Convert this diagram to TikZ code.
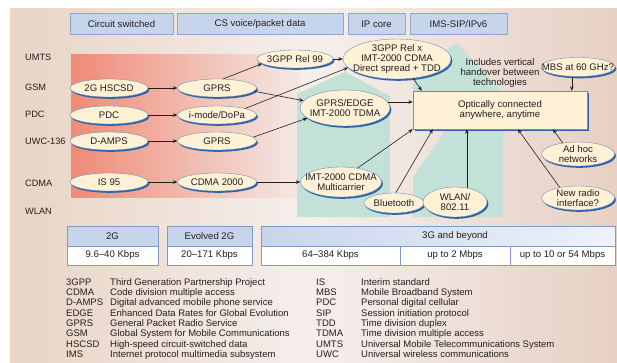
\documentclass[tikz,border=0pt]{standalone}
\usepackage{fontspec}
\setmainfont{Liberation Sans}
\usetikzlibrary{shapes.geometric,arrows.meta,shadows,calc}
\definecolor{bgL}{HTML}{E9D4C5}
\definecolor{bgM}{HTML}{F5EFEC}
\definecolor{bgR}{HTML}{E7D0C4}
\definecolor{redL}{HTML}{EF8A76}
\definecolor{redR}{HTML}{F4E9E5}
\definecolor{greenA}{HTML}{C3E1D6}
\definecolor{cream}{HTML}{FEF1D6}
\definecolor{ellline}{HTML}{6F8FB5}
\definecolor{shblue}{HTML}{2E63A8}
\definecolor{hdrfill}{HTML}{C7D5EC}
\definecolor{hdrline}{HTML}{8CA5CE}
\definecolor{tabline}{HTML}{7F9BC8}
\definecolor{hdrlight}{HTML}{EEF2FA}
\definecolor{txt}{HTML}{231F20}
\begin{document}
\begin{tikzpicture}[x=1pt,y=-1pt,
  every node/.style={font=\fontsize{9.6}{10}\selectfont, text=txt},
  ell/.style={ellipse, draw=ellline, line width=0.4pt, fill=cream, inner xsep=-10pt, inner ysep=-8pt, align=center,
    drop shadow={shadow xshift=1.4pt,shadow yshift=-1.8pt,fill=shblue,opacity=1}},
  hdr/.style={rectangle, draw=hdrline, line width=0.6pt, fill=hdrfill, inner sep=0pt, minimum height=21pt},
  cell/.style={rectangle, draw=tabline, line width=0.6pt, inner sep=0pt},
  arr/.style={-{Stealth[length=4.5pt,width=3.6pt]}, line width=0.6pt, draw=txt},
  lbl/.style={anchor=west, inner sep=0pt, font=\fontsize{9.2}{10}\selectfont},
  gl/.style={anchor=base west, inner sep=0pt, font=\fontsize{9.5}{10}\selectfont},
]
\useasboundingbox (0,0) rectangle (617,362);
\fill[white] (0,0) rectangle (617,362);
\shade[left color=bgL, right color=bgR, middle color=bgM] (10,8) rectangle (617,362);
\shade[left color=redL, right color=redR] (71,54) rectangle (300,197);
\fill[greenA] (297,217) -- (297,94) -- (345,72) -- (390,96) -- (390,217) -- cycle;
\fill[greenA] (413,217) -- (413,177) -- (445,131) -- (445,95) -- (413,95) -- (413,74) -- (457,43) -- (503,93) -- (503,217) -- cycle;

% top header
\node[hdr, minimum width=103pt] (hcs) at (121.5,23.8) {Circuit switched};
\node[hdr, minimum width=166pt] (hcsv) at (260,23.8) {CS voice/packet data};
\node[hdr, minimum width=57pt] (hip) at (376.5,23.8) {IP core};
\node[hdr, minimum width=97pt] (hims) at (458.5,23.8) {IMS-SIP/IPv6};

% row labels
\node[lbl] (lumts) at (25,57) {UMTS};
\node[lbl] (lgsm) at (25,87) {GSM};
\node[lbl] (lpdc) at (25,114) {PDC};
\node[lbl] (luwc) at (25,141) {UWC-136};
\node[lbl] (lcdma) at (25,183) {CDMA};
\node[lbl] (lwlan) at (25,211) {WLAN};

% ellipses
\node[ell, minimum width=78pt, minimum height=18pt] (hscsd) at (109,88) {2G HSCSD};
\node[ell, minimum width=78pt, minimum height=18pt] (pdc) at (109,115) {PDC};
\node[ell, minimum width=78pt, minimum height=18pt] (damps) at (109,141) {D-AMPS};
\node[ell, minimum width=78pt, minimum height=18pt] (is95) at (109,182) {IS 95};
\node[ell, minimum width=79pt, minimum height=18pt] (gprsa) at (217,88) {GPRS};
\node[ell, minimum width=79pt, minimum height=18pt] (imode) at (217,115) {i-mode/DoPa};
\node[ell, minimum width=79pt, minimum height=18pt] (gprsb) at (217,141) {GPRS};
\node[ell, minimum width=79pt, minimum height=18pt] (cdma2k) at (217,182) {CDMA 2000};
\node[ell, minimum width=76pt, minimum height=18pt] (rel99) at (295,59) {3GPP Rel 99};
\node[ell, minimum width=108pt, minimum height=40pt] (relx) at (397,59) {3GPP Rel x\\IMT-2000 CDMA\\Direct spread + TDD};
\node[ell, minimum width=90pt, minimum height=36pt] (edge) at (345,108) {GPRS/EDGE\\IMT-2000 TDMA};
\node[ell, minimum width=81pt, minimum height=30pt] (mc) at (341,182) {IMT-2000 CDMA\\Multicarrier};
\node[ell, minimum width=60pt, minimum height=20pt] (bt) at (394,203) {Bluetooth};
\node[ell, minimum width=64pt, minimum height=30pt] (wlan) at (455,202) {WLAN/\\802.11};
\node[ell, minimum width=74pt, minimum height=19pt] (mbs) at (578,67) {MBS at 60 GHz?};
\node[ell, minimum width=73pt, minimum height=24pt] (adhoc) at (578,154) {Ad hoc\\networks};
\node[ell, minimum width=73pt, minimum height=24pt] (nradio) at (578,198) {New radio\\interface?};

% central box
\node[rectangle, draw=ellline, line width=0.4pt, fill=cream, minimum width=174pt, minimum height=38pt, align=center, inner sep=0pt,
  drop shadow={shadow xshift=2pt,shadow yshift=-2pt,fill=shblue,opacity=1}] (box) at (500,110) {Optically connected\\anywhere, anytime};
\node[align=center, inner sep=0pt] (incl) at (500,73) {Includes vertical\\handover between\\technologies};

% arrows
\draw[arr] (hscsd.east) -- (gprsa.west);
\draw[arr] (pdc.east) -- (imode.west);
\draw[arr] (damps.east) -- (gprsb.west);
\draw[arr] (is95.east) -- (cdma2k.west);
\draw[arr] (gprsa.56) -- (rel99.188);
\draw[arr] (gprsa.-5) -- (edge.170);
\draw[arr] (imode.13) -- (relx.190);
\draw[arr] (gprsb.6) -- (edge.195);
\draw[arr] (cdma2k.east) -- (mc.west);
\draw[arr] (rel99.east) -- (relx.west);
\draw[arr] (relx.-50) -- ($(box.north west)+(9,0)$);
\draw[arr] (edge.8) -- (edge.8 -| box.west);
\draw[arr] (mc.40) -- ($(box.south west)+(0,0)$);
\draw[arr] (bt.80) -- ($(box.south west)+(20,0)$);
\draw[arr] (wlan.50) -- (wlan.50 |- box.south);
\draw[arr] (nradio.150) -- ($(box.south west)+(105,0)$);
\draw[arr] (adhoc.144) -- ($(box.south west)+(140,0)$);
\draw[arr] (mbs.-123) -- (mbs.-123 |- box.north);

% table
\node[cell, fill=hdrfill, minimum width=91pt, minimum height=20pt] (t2g) at (112.5,236) {2G};
\node[cell, fill=white, minimum width=91pt, minimum height=19pt] (t2gr) at (112.5,255.5) {9.6--40 Kbps};
\node[cell, fill=hdrfill, minimum width=85pt, minimum height=20pt] (tev) at (209.5,236) {Evolved 2G};
\node[cell, fill=white, minimum width=85pt, minimum height=19pt] (tevr) at (209.5,255.5) {20--171 Kbps};
\node[cell, left color=hdrfill, right color=hdrlight, minimum width=354pt, minimum height=20pt] (t3g) at (438,236) {};
\node[inner sep=0pt] (t3gl) at (455,236) {3G and beyond};
\node[cell, fill=white, minimum width=139pt, minimum height=19pt] (r1) at (330.5,255.5) {64--384 Kbps};
\node[cell, fill=white, minimum width=110pt, minimum height=19pt] (r2) at (455,255.5) {up to 2 Mbps};
\node[cell, fill=white, minimum width=105pt, minimum height=19pt] (r3) at (562.5,255.5) {up to 10 or 54 Mbps};

% glossary
\foreach \ab/\df [count=\i] in {3GPP/Third Generation Partnership Project, CDMA/Code division multiple access, D-AMPS/Digital advanced mobile phone service, EDGE/Enhanced Data Rates for Global Evolution, GPRS/General Packet Radio Service, GSM/Global System for Mobile Communications, HSCSD/High-speed circuit-switched data, IMS/Internet protocol multimedia subsystem}{
  \node[gl] (gla\i) at (66,{285.3+10.3*(\i-1)}) {\ab};
  \node[gl] (gld\i) at (110,{285.3+10.3*(\i-1)}) {\df};
}
\foreach \ab/\df [count=\i] in {IS/Interim standard, MBS/Mobile Broadband System, PDC/Personal digital cellular, SIP/Session initiation protocol, TDD/Time division duplex, TDMA/Time division multiple access, UMTS/Universal Mobile Telecommunications System, UWC/Universal wireless communications}{
  \node[gl] (gra\i) at (316,{285.3+10.3*(\i-1)}) {\ab};
  \node[gl] (grd\i) at (361,{285.3+10.3*(\i-1)}) {\df};
}
\end{tikzpicture}
\end{document}
